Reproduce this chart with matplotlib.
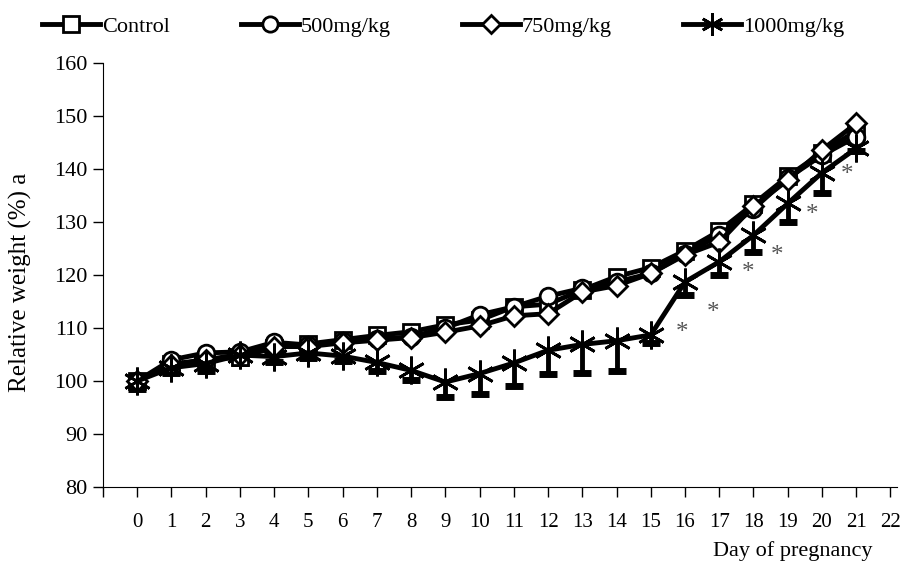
import numpy as np
import matplotlib
matplotlib.use('Agg')
import matplotlib.pyplot as plt

plt.rcParams['font.family'] = ['Liberation Serif', 'DejaVu Serif']

# data
days = list(range(0, 22))
control = [100, 103.2, 104, 104.5, 106.3, 107, 107.8, 108.6, 109.3, 110.6, 111.5,
           114, 114.5, 117.2, 119.7, 121.4, 124.6, 128.3, 133.4, 138.6, 143.1, 147.2]
dose_500 = [100, 104, 105.3, 105.5, 107.3, 106.8, 107.5, 108, 108.3, 110, 112.5,
            114, 116, 117.5, 118.7, 120.3, 124, 127.5, 132.5, 138.3, 142.6, 146.1]
dose_750 = [100, 103, 104, 105, 106.5, 106.5, 107.2, 107.7, 108.2, 109.2, 110.4,
            112.3, 112.7, 116.8, 118, 120.3, 123.8, 126.2, 133, 137.9, 143.6, 148.6]
dose_1000 = [100, 102.5, 103.3, 104.9, 104.6, 105.3, 104.7, 103.5, 102, 99.8, 101.4,
             103.4, 105.8, 106.9, 107.6, 108.7, 118.7, 122.5, 127.5, 133.5, 139.3, 143.9]
err_1000 = [1.5, 1, 1.5, 1.5, 1, 1, 1, 1.7, 1.8, 2.9, 3.9,
            4.3, 4.5, 5.3, 5.7, 1.6, 2.5, 2.5, 3.1, 3.5, 3.9, 0.5]
# significance marks (x, y) for the 1000mg group
star_x = [15.9, 16.82, 17.85, 18.7, 19.71, 20.73]
star_y = [109.0, 112.9, 120.4, 123.6, 131.3, 138.8]

xticks = list(range(-1, 23))
xticklabels = [''] + [str(d) for d in range(0, 23)]
yticks = list(range(80, 161, 10))

fig = plt.figure(figsize=(9, 5.63), dpi=100)
ax = fig.add_axes([0.1144, 0.135, 0.8826, 0.753])

lw = 3.5
ms = 12
l1, = ax.plot(days, control, color='black', lw=lw, marker='s', ms=ms - 1,
              mfc='white', mec='black', mew=2, zorder=3)
l2, = ax.plot(days, dose_500, color='black', lw=lw, marker='o', ms=ms,
              mfc='white', mec='black', mew=2, zorder=4)
l3, = ax.plot(days, dose_750, color='black', lw=lw, marker='D', ms=ms - 2,
              mfc='white', mec='black', mew=2, zorder=5)

# lower error bars only, with thick caps
lower = np.array(dose_1000) - np.array(err_1000)
ax.vlines(days, lower, dose_1000, color='black', lw=3.5, zorder=2)
ax.plot(days, lower, ls='none', marker='_', ms=13, mew=5, color='black', zorder=2)
l4, = ax.plot(days, dose_1000, color='black', lw=lw, marker=(6, 2, 0), ms=20,
              mec='black', mew=2, zorder=6)

for sx, sy in zip(star_x, star_y):
    ax.text(sx, sy, '*', fontsize=18, color='#555555', ha='center', va='center')

ax.set_xlim(-1, 22.2)
ax.set_ylim(80, 160)
ax.set_xticks(xticks)
ax.set_xticklabels(xticklabels)
ax.set_yticks(yticks)
ax.tick_params(axis='x', direction='out', length=7, width=1, pad=12, labelsize=15)
ax.tick_params(axis='y', direction='out', length=7, width=1, pad=4, labelsize=16)
ax.spines['top'].set_visible(False)
ax.spines['right'].set_visible(False)

fig.text(793 / 900, 1 - 551 / 563, 'Day of pregnancy', fontsize=16,
         ha='center', va='center')
fig.text(20 / 900, 1 - 282 / 563, 'Relative weight (%) a', fontsize=18,
         rotation=90, ha='center', va='center')

leg_handles = [
    plt.Line2D([], [], color='black', lw=lw, marker='s', ms=11, mfc='white', mec='black', mew=2),
    plt.Line2D([], [], color='black', lw=lw, marker='o', ms=11, mfc='white', mec='black', mew=2),
    plt.Line2D([], [], color='black', lw=lw, marker='D', ms=9, mfc='white', mec='black', mew=2),
    plt.Line2D([], [], color='black', lw=lw, marker=(6, 2, 0), ms=16, mec='black', mew=2),
]
fig.legend(leg_handles, ['Control', '500mg/kg', '750mg/kg', '1000mg/kg'],
           loc='center', bbox_to_anchor=(443 / 900, 1 - 27 / 563), ncol=4,
           frameon=False, fontsize=16, handlelength=2.6, handletextpad=0.1,
           columnspacing=3.2)

plt.savefig('out.png', dpi=100)
